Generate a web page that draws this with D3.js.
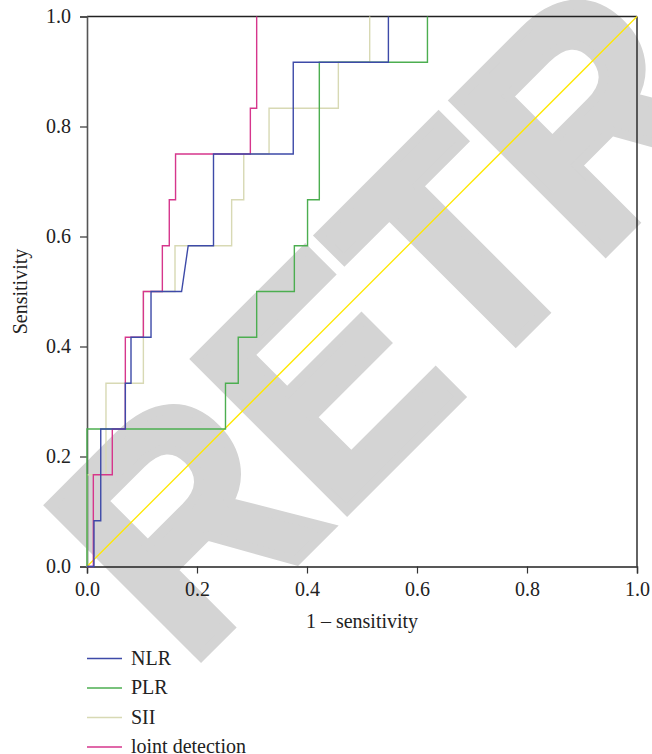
<!DOCTYPE html>
<html><head><meta charset="utf-8">
<script src="https://cdn.jsdelivr.net/npm/d3@7"></script>
<style>html,body{margin:0;padding:0;background:#fff;}svg{display:block;}</style>
</head><body>
<svg id="chart" width="652" height="754"></svg>
<script>
// ---- data ----
const tickValues = [0, 0.2, 0.4, 0.6, 0.8, 1.0];
const tickLabels = ["0.0", "0.2", "0.4", "0.6", "0.8", "1.0"];
const seriesNames = ["NLR", "PLR", "SII", "loint detection"];
const seriesColors = ["#3d4aa8", "#4cae50", "#d8d9b4", "#d6368c"];

const nlrX = [0, 0.0127, 0.0127, 0.025, 0.025, 0.0697, 0.0697, 0.08, 0.08, 0.1164, 0.1164, 0.172, 0.184, 0.23, 0.23, 0.375, 0.375, 0.548, 0.548];
const nlrY = [0, 0, 0.0833, 0.0833, 0.25, 0.25, 0.3333, 0.3333, 0.4167, 0.4167, 0.5, 0.5, 0.5833, 0.5833, 0.75, 0.75, 0.9167, 0.9167, 1];

const plrX = [0, 0, 0.2518, 0.2518, 0.275, 0.275, 0.3085, 0.3085, 0.377, 0.377, 0.401, 0.401, 0.4224, 0.4224, 0.619, 0.619];
const plrY = [0, 0.25, 0.25, 0.3333, 0.3333, 0.4167, 0.4167, 0.5, 0.5, 0.5833, 0.5833, 0.6667, 0.6667, 0.9167, 0.9167, 1];

const siiX = [0, 0, 0.0345, 0.0345, 0.1025, 0.1025, 0.16, 0.16, 0.263, 0.263, 0.285, 0.285, 0.331, 0.331, 0.457, 0.457, 0.514, 0.514];
const siiY = [0, 0.1667, 0.1667, 0.3333, 0.3333, 0.5, 0.5, 0.5833, 0.5833, 0.6667, 0.6667, 0.75, 0.75, 0.8333, 0.8333, 0.9167, 0.9167, 1];

const jointX = [0, 0.0115, 0.0115, 0.046, 0.046, 0.0697, 0.0697, 0.1025, 0.1025, 0.137, 0.137, 0.1496, 0.1496, 0.161, 0.161, 0.297, 0.297, 0.3085, 0.3085];
const jointY = [0, 0, 0.1667, 0.1667, 0.25, 0.25, 0.4167, 0.4167, 0.5, 0.5, 0.5833, 0.5833, 0.6667, 0.6667, 0.75, 0.75, 0.8333, 0.8333, 1];

const refX = [0, 1];
const refY = [0, 1];

// ---- layout ----
const svg = d3.select("#chart");
const plotLeft = 87, plotTop = 16.5, plotSize = 550;
const x = d3.scaleLinear().domain([0, 1]).range([plotLeft, plotLeft + plotSize]);
const y = d3.scaleLinear().domain([0, 1]).range([plotTop + plotSize, plotTop]);
const serif = "'Liberation Serif','Times New Roman',serif";

// watermark (behind everything)
svg.append("text")
  .attr("transform", "translate(187.2,669.8) rotate(-45) scale(0.923,1)")
  .attr("font-family", "'Liberation Sans',Arial,sans-serif")
  .attr("font-weight", "bold")
  .attr("font-size", 310)
  .attr("fill", "#d4d4d4")
  .attr("stroke", "#d4d4d4")
  .attr("stroke-width", 10)
  .attr("stroke-linejoin", "miter")
  .text("RETRACTED");

// frame top/right
svg.append("line").attr("x1", x(0)).attr("x2", x(1)).attr("y1", y(1)).attr("y2", y(1))
  .attr("stroke", "#222").attr("stroke-width", 1.4);
svg.append("line").attr("x1", x(1)).attr("x2", x(1)).attr("y1", y(0)).attr("y2", y(1))
  .attr("stroke", "#222").attr("stroke-width", 1.4);

// axes
const xAxis = d3.axisBottom(x).tickValues(tickValues).tickFormat((d, i) => tickLabels[i]).tickSizeOuter(0).tickSize(7).tickPadding(8);
const yAxis = d3.axisLeft(y).tickValues(tickValues).tickFormat((d, i) => tickLabels[i]).tickSizeOuter(0).tickSize(7).tickPadding(9);
const gx = svg.append("g").attr("transform", `translate(0,${y(0)})`).call(xAxis);
const gy = svg.append("g").attr("transform", `translate(${x(0)},0)`).call(yAxis);
[gx, gy].forEach(g => {
  g.select(".domain").attr("stroke", "#222").attr("stroke-width", 1.4);
  g.selectAll(".tick line").attr("stroke", "#333").attr("stroke-width", 1.2);
  g.selectAll(".tick text").attr("font-family", serif).attr("font-size", 20).attr("fill", "#222");
});
gy.select(".domain").attr("stroke", "#555").attr("stroke-width", 1.6);

// axis titles
svg.append("text").attr("x", x(0.5)).attr("y", 628).attr("text-anchor", "middle")
  .attr("font-family", serif).attr("font-size", 20).attr("fill", "#222").text("1 \u2013 sensitivity");
svg.append("text").attr("transform", `translate(27,${y(0.5)}) rotate(-90)`).attr("text-anchor", "middle")
  .attr("font-family", serif).attr("font-size", 20).attr("fill", "#222").text("Sensitivity");

// lines
const line = d3.line().x(d => x(d[0])).y(d => y(d[1]));
const zip = (xs, ys) => xs.map((v, i) => [v, ys[i]]);
const lines = svg.append("g").attr("fill", "none").attr("stroke-width", 1.4);
lines.append("path").datum(zip(refX, refY)).attr("d", line).attr("stroke", "#ffe800").attr("stroke-width", 1.3);
lines.append("path").datum(zip(siiX, siiY)).attr("d", line).attr("stroke", seriesColors[2]);
lines.append("path").datum(zip(plrX, plrY)).attr("d", line).attr("stroke", seriesColors[1]);
lines.append("path").datum(zip(jointX, jointY)).attr("d", line).attr("stroke", seriesColors[3]);
lines.append("path").datum(zip(nlrX, nlrY)).attr("d", line).attr("stroke", seriesColors[0]);

// legend
const legY = [658.5, 688, 717.5, 747];
const leg = svg.append("g");
seriesNames.forEach((n, i) => {
  leg.append("line").attr("x1", 87).attr("x2", 122).attr("y1", legY[i]).attr("y2", legY[i])
    .attr("stroke", seriesColors[i]).attr("stroke-width", 1.6);
  leg.append("text").attr("x", 131).attr("y", legY[i] + 6).attr("font-family", serif)
    .attr("font-size", 20).attr("fill", "#222").text(n);
});
</script>
</body></html>
